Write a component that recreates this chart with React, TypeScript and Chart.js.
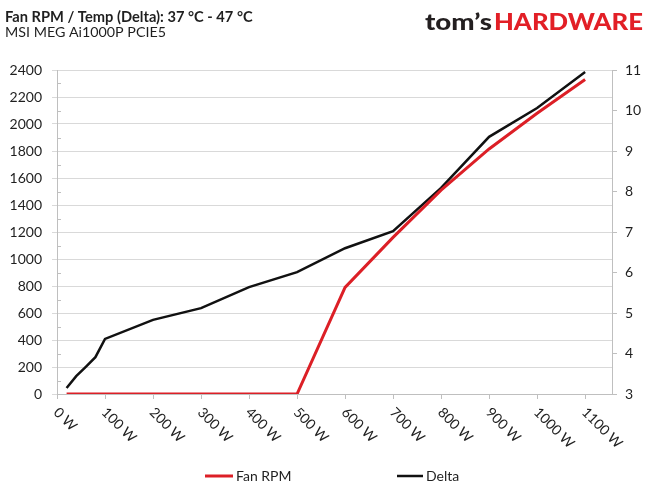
import React, { useEffect, useRef } from "react";
import { Chart, registerables } from "chart.js";

Chart.register(...registerables);

// ---- data ----
const loads = [20, 40, 60, 80, 100, 200, 300, 400, 500, 600, 700, 800, 900, 1000, 1100];
const fanRpm = [0, 0, 0, 0, 0, 0, 0, 0, 0, 790, 1160, 1510, 1815, 2080, 2330];
const delta = [3.15, 3.44, 3.67, 3.91, 4.36, 4.83, 5.12, 5.64, 6.01, 6.6, 7.02, 8.09, 9.35, 10.06, 10.95];
const seriesNames = ["Fan RPM", "Delta"];
const titleText = "Fan RPM / Temp (Delta): 37 °C - 47 °C";
const subtitleText = "MSI MEG Ai1000P PCIE5";
const logoDark = "tom’s";
const logoRed = "HARDWARE";
const xUnit = " W";

const FONT = "Lato, 'Liberation Sans', sans-serif";
const RED = "#dc1f26";
const BLACK = "#111111";
const TEXT = "#1f1f1f";

const decor = {
  id: "decor",
  afterDraw(chart: any) {
    const ctx: CanvasRenderingContext2D = chart.ctx;
    const xs = chart.scales.x;
    const ys = chart.scales.y;
    ctx.save();
    // titles
    ctx.fillStyle = TEXT;
    ctx.textAlign = "left";
    ctx.textBaseline = "alphabetic";
    ctx.font = `bold 14px ${FONT}`;
    let w = ctx.measureText(titleText).width;
    let fs = Math.max(12, Math.min(16, (14 * 248) / w));
    ctx.font = `bold ${fs}px ${FONT}`;
    ctx.fillText(titleText, 5, 22);
    ctx.font = `14px ${FONT}`;
    w = ctx.measureText(subtitleText).width;
    fs = Math.max(12, Math.min(16, (14 * 161) / w));
    ctx.font = `${fs}px ${FONT}`;
    ctx.fillText(subtitleText, 5, 37);

    // logo
    ctx.font = `900 23px ${FONT}`;
    const w1 = ctx.measureText(logoDark).width;
    const w2 = ctx.measureText(logoRed).width;
    ctx.save();
    ctx.translate(425, 30);
    ctx.scale(67 / w1, 1);
    ctx.fillStyle = "#231f20";
    ctx.fillText(logoDark, 0, 0);
    ctx.restore();
    ctx.save();
    ctx.translate(494, 30);
    ctx.scale(149 / w2, 1);
    ctx.fillStyle = "#e21f26";
    ctx.fillText(logoRed, 0, 0);
    ctx.restore();

    // rotated x labels
    ctx.fillStyle = TEXT;
    ctx.font = `14px ${FONT}`;
    ctx.textBaseline = "middle";
    ctx.textAlign = "left";
    for (const t of xs.ticks) {
      const px = xs.getPixelForValue(t.value);
      ctx.save();
      ctx.translate(px - 1, xs.top + 16);
      ctx.rotate(Math.PI / 4);
      ctx.fillText(`${t.value}${xUnit}`, 0, 0);
      ctx.restore();
    }

    // minor ticks on left axis (inside)
    ctx.strokeStyle = "#bfbfbf";
    ctx.lineWidth = 1;
    const tv = ys.ticks.map((t: any) => t.value);
    for (let i = 0; i < tv.length - 1; i++) {
      const py = Math.round(ys.getPixelForValue((tv[i] + tv[i + 1]) / 2)) + 0.5;
      ctx.beginPath();
      ctx.moveTo(ys.right, py);
      ctx.lineTo(ys.right + 4, py);
      ctx.stroke();
    }

    // legend
    const ly = 476;
    ctx.font = `14px ${FONT}`;
    ctx.fillStyle = TEXT;
    ctx.lineCap = "butt";
    ctx.strokeStyle = RED;
    ctx.lineWidth = 3;
    ctx.beginPath();
    ctx.moveTo(205, ly);
    ctx.lineTo(233, ly);
    ctx.stroke();
    ctx.fillText(seriesNames[0], 236, ly);
    ctx.strokeStyle = BLACK;
    ctx.lineWidth = 2.5;
    ctx.beginPath();
    ctx.moveTo(397, ly);
    ctx.lineTo(423, ly);
    ctx.stroke();
    ctx.fillText(seriesNames[1], 426, ly);
    ctx.restore();
  },
};

export default function App() {
  const ref = useRef<HTMLCanvasElement | null>(null);
  useEffect(() => {
    if (!ref.current) return;
    const tickFont = { family: FONT, size: 14 };
    const chart = new Chart(ref.current, {
      type: "line",
      data: {
        datasets: [
          {
            label: seriesNames[0],
            data: loads.map((x, i) => ({ x, y: fanRpm[i] })),
            borderColor: RED,
            backgroundColor: RED,
            borderWidth: 3,
            pointRadius: 0,
            tension: 0,
            yAxisID: "y",
          },
          {
            label: seriesNames[1],
            data: loads.map((x, i) => ({ x, y: delta[i] })),
            borderColor: BLACK,
            backgroundColor: BLACK,
            borderWidth: 2.5,
            pointRadius: 0,
            tension: 0,
            yAxisID: "y1",
          },
        ],
      },
      options: {
        animation: false,
        responsive: false,
        maintainAspectRatio: false,
        layout: { padding: { top: 70, left: 0, right: 0, bottom: 40 } },
        plugins: {
          legend: { display: false },
          title: { display: false },
          tooltip: { enabled: false },
        },
        scales: {
          x: {
            type: "linear",
            position: "bottom",
            min: 0,
            max: 1156,
            ticks: { display: false, stepSize: 100, includeBounds: false },
            grid: { drawOnChartArea: false, drawTicks: true, tickLength: 5, color: "#bfbfbf" },
            border: { color: "#bfbfbf" },
            afterFit: (s: any) => {
              s.height = 57;
            },
          },
          y: {
            position: "left",
            min: 0,
            max: 2400,
            ticks: {
              stepSize: 200,
              padding: 10,
              font: tickFont,
              color: TEXT,
              callback: (v: any) => String(v),
            },
            grid: { color: "#d9d9d9", tickLength: 5 },
            border: { color: "#bfbfbf" },
            afterFit: (s: any) => {
              s.width = 57;
            },
          },
          y1: {
            position: "right",
            min: 3,
            max: 11,
            ticks: {
              stepSize: 1,
              padding: 8,
              font: tickFont,
              color: TEXT,
              callback: (v: any) => String(v),
            },
            grid: { drawOnChartArea: false, tickLength: 5, color: "#bfbfbf" },
            border: { color: "#bfbfbf" },
            afterFit: (s: any) => {
              s.width = 39;
            },
          },
        },
      },
      plugins: [decor],
    } as any);
    return () => chart.destroy();
  }, []);
  return (
    <div style={{ position: "absolute", left: 0, top: 0, width: 651, height: 491, background: "#fff" }}>
      <canvas ref={ref} width={651} height={491} style={{ display: "block", width: 651, height: 491 }} />
    </div>
  );
}
